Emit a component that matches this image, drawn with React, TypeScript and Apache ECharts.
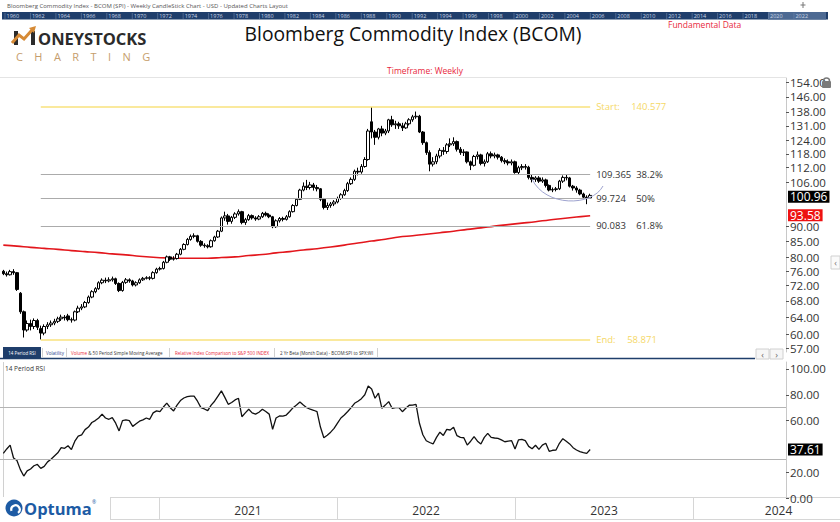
import React, { useEffect, useRef } from 'react';
import * as echarts from 'echarts';

const FONT = "'Open Sans', 'Noto Sans', sans-serif";

const headerCaption = 'Bloomberg Commodity Index - BCOM (SPI) - Weekly CandleStick Chart - USD - Updated Charts Layout';
const chartTitle = 'Bloomberg Commodity Index (BCOM)';
const timeframeText = 'Timeframe: Weekly';
const fundamentalText = 'Fundamental Data';
const navigatorYears = [1960, 1962, 1964, 1966, 1968, 1970, 1972, 1974, 1976, 1978, 1980, 1982, 1984, 1986, 1988, 1990, 1992, 1994, 1996, 1998, 2000, 2002, 2004, 2006, 2008, 2010, 2012, 2014, 2016, 2018, 2020, 2022];
const tabLabels = ['14 Period RSI', 'Volatility', 'Volume', ' & 50 Period Simple Moving Average', 'Relative Index Comparison to S&P 500 INDEX', '2 Yr Beta (Month Data) - BCOM:SPI to SPX:WI'];

// weekly bars, first bar's week
const firstWeek = '2020-02-16';
// [open, high, low, close]
const weeklyOHLC: number[][] = [
  [76.0, 76.4, 74.9, 75.3], [75.3, 75.9, 74.5, 75.0], [75.0, 76.4, 74.8, 75.9], [75.9, 76.6, 75.0, 75.6],
  [75.6, 75.8, 70.6, 71.0], [70.0, 70.3, 64.8, 65.3], [65.3, 65.6, 59.3, 61.0], [61.0, 63.2, 60.6, 62.5],
  [62.5, 63.4, 60.9, 61.8], [61.8, 63.7, 61.2, 63.2], [63.2, 63.6, 61.0, 61.6], [61.3, 62.0, 58.871, 60.3],
  [60.3, 62.3, 59.8, 61.8], [61.8, 62.8, 61.2, 62.2], [62.2, 63.2, 61.7, 62.6], [62.6, 63.6, 62.1, 63.0],
  [63.0, 64.1, 62.6, 63.6], [63.6, 64.6, 63.1, 64.0], [64.0, 64.5, 63.2, 63.8], [64.3, 64.8, 63.0, 63.4],
  [63.4, 63.9, 62.7, 63.3], [63.3, 65.6, 63.0, 65.3], [65.3, 66.8, 65.0, 66.2], [66.2, 67.2, 65.7, 66.5],
  [66.5, 68.0, 66.2, 67.6], [67.6, 69.4, 67.3, 69.0], [69.0, 70.8, 68.7, 70.4], [70.4, 71.6, 70.0, 71.2],
  [71.2, 73.2, 70.9, 72.8], [72.8, 74.0, 72.4, 73.5], [73.5, 74.2, 72.7, 73.3], [73.3, 74.3, 72.9, 73.6],
  [73.6, 74.5, 73.1, 73.9], [73.9, 74.2, 72.2, 72.6], [72.6, 72.9, 70.3, 70.7], [70.7, 73.3, 70.4, 72.9],
  [72.9, 74.1, 72.5, 73.6], [73.6, 74.0, 72.8, 73.3], [73.3, 73.6, 71.8, 72.2], [72.2, 73.2, 71.8, 72.8],
  [72.8, 74.0, 72.5, 73.6], [73.6, 74.4, 73.3, 74.0], [74.0, 74.6, 73.7, 74.2], [74.2, 74.6, 73.5, 74.0],
  [74.0, 76.0, 73.7, 75.6], [75.6, 77.0, 75.3, 76.6], [76.6, 77.3, 76.2, 76.8], [76.8, 79.0, 76.5, 78.6],
  [78.6, 80.6, 78.3, 80.2], [80.2, 80.5, 79.0, 79.5], [79.5, 80.4, 79.1, 79.7], [79.7, 81.4, 79.4, 81.0],
  [81.0, 82.9, 80.7, 82.5], [82.5, 84.4, 82.2, 84.0], [84.0, 86.1, 83.7, 85.6], [85.6, 87.2, 85.2, 86.6],
  [86.6, 87.6, 86.0, 86.8], [86.8, 87.1, 84.6, 85.0], [85.0, 85.4, 83.3, 83.8], [83.8, 84.4, 83.0, 83.6],
  [83.6, 84.1, 82.8, 83.3], [83.3, 85.6, 83.0, 85.2], [85.2, 86.8, 84.9, 86.4], [86.4, 88.7, 86.1, 88.3],
  [88.3, 93.3, 88.0, 92.8], [92.8, 95.0, 91.8, 93.5], [93.5, 94.2, 90.5, 91.6], [91.6, 93.5, 90.8, 93.0],
  [93.0, 94.8, 92.4, 94.2], [94.2, 95.8, 93.6, 95.0], [95.0, 95.3, 90.6, 91.2], [91.2, 92.8, 90.4, 92.2],
  [92.2, 94.2, 91.8, 93.6], [93.6, 94.0, 92.2, 92.8], [92.8, 93.4, 91.8, 92.4], [92.4, 93.8, 92.0, 93.2],
  [93.2, 94.9, 92.8, 94.4], [94.4, 95.0, 93.3, 93.8], [93.8, 94.4, 92.7, 93.2], [93.2, 93.5, 89.3, 89.8],
  [89.8, 92.3, 89.4, 91.8], [91.8, 93.1, 91.2, 92.6], [92.6, 93.2, 91.6, 92.3], [92.3, 93.8, 91.9, 93.2],
  [93.2, 95.5, 92.9, 95.0], [95.0, 97.7, 94.7, 97.2], [97.2, 100.0, 96.9, 99.5], [99.5, 103.5, 99.2, 103.0],
  [103.0, 106.0, 102.5, 104.5], [104.5, 107.0, 103.0, 104.0], [104.0, 106.2, 103.2, 105.0], [105.0, 105.8, 102.8, 104.0],
  [104.0, 105.0, 102.5, 103.5], [103.5, 103.8, 98.8, 99.5], [99.5, 100.0, 95.8, 96.5], [96.5, 98.3, 95.6, 97.2],
  [97.2, 98.5, 96.4, 97.8], [97.8, 99.2, 97.0, 98.5], [98.5, 100.5, 98.0, 99.8], [99.8, 101.8, 99.3, 101.2],
  [101.2, 103.5, 100.8, 102.8], [102.8, 106.2, 102.3, 105.5], [105.5, 108.0, 105.0, 107.2], [107.2, 111.2, 106.6, 110.5],
  [110.5, 112.0, 108.8, 110.2], [110.2, 113.5, 109.5, 112.5], [112.5, 116.5, 112.0, 115.5], [115.5, 129.5, 115.0, 128.5],
  [133.0, 140.577, 125.0, 128.0], [128.0, 129.0, 122.0, 125.5], [125.5, 130.0, 124.5, 129.5], [129.5, 131.0, 126.0, 127.5],
  [127.5, 129.5, 126.5, 128.5], [128.5, 134.5, 127.5, 134.0], [134.0, 136.0, 130.5, 131.5], [131.5, 133.5, 129.5, 132.0],
  [132.0, 133.0, 129.5, 131.0], [131.0, 132.5, 128.5, 130.0], [130.0, 133.0, 129.5, 132.0], [132.0, 134.8, 131.2, 134.0],
  [134.0, 136.5, 133.0, 135.5], [135.5, 138.2, 134.5, 135.8], [135.8, 136.5, 127.5, 128.0], [128.0, 128.5, 122.0, 123.0],
  [123.0, 123.5, 117.5, 118.5], [118.5, 119.5, 110.5, 113.5], [113.5, 116.5, 112.5, 114.5], [114.5, 118.0, 113.5, 117.0],
  [117.0, 120.5, 116.0, 119.5], [119.5, 121.0, 117.5, 119.0], [119.0, 122.8, 118.0, 122.0], [122.0, 125.0, 121.0, 122.5],
  [122.5, 125.5, 121.5, 123.5], [123.5, 124.0, 119.0, 120.0], [120.0, 121.0, 117.5, 118.5], [118.5, 120.0, 117.0, 118.8],
  [118.8, 119.0, 113.8, 114.5], [114.5, 115.0, 111.0, 113.0], [113.0, 117.5, 112.5, 116.8], [116.8, 119.0, 115.5, 117.5],
  [117.5, 118.0, 113.0, 113.8], [113.8, 115.5, 112.5, 114.5], [114.5, 118.8, 114.0, 118.0], [118.0, 119.0, 116.0, 117.0],
  [117.0, 118.5, 116.0, 117.5], [117.5, 118.0, 115.5, 116.5], [116.5, 117.0, 114.2, 115.0], [115.0, 116.0, 113.5, 114.5],
  [114.5, 115.5, 113.0, 114.0], [114.0, 115.5, 113.0, 114.5], [114.5, 115.0, 109.5, 110.0], [110.0, 112.8, 109.0, 112.0],
  [112.0, 113.5, 111.0, 112.5], [112.5, 113.5, 111.2, 112.2], [112.2, 112.8, 107.2, 108.0], [108.0, 109.0, 106.0, 107.2],
  [107.2, 108.5, 106.2, 107.8], [107.8, 108.5, 105.8, 106.5], [106.5, 108.0, 105.8, 107.0], [107.0, 107.5, 104.0, 104.8],
  [104.8, 105.2, 102.5, 103.0], [103.0, 104.0, 102.2, 103.2], [103.2, 104.2, 102.5, 103.5], [103.5, 107.0, 103.0, 106.5],
  [106.5, 108.8, 105.8, 108.0], [108.0, 109.2, 106.8, 107.8], [107.8, 108.2, 104.0, 104.5], [104.5, 105.0, 102.8, 103.8],
  [103.8, 104.5, 102.0, 103.0], [103.0, 103.5, 101.0, 101.5], [101.5, 102.0, 99.5, 100.3], [100.3, 101.0, 97.7, 100.0],
  [100.0, 101.6, 99.6, 100.96],
];

// 200-period simple moving average, read every 4th week
const sma200Every4Weeks = [
  83.8, 83.5, 83.1, 82.8, 82.5, 82.1, 81.8, 81.5, 81.1, 80.8,
  80.4, 80.1, 79.9, 79.8, 79.8, 79.8, 80.0, 80.2, 80.6, 80.9,
  81.4, 81.8, 82.3, 82.7, 83.2, 83.8, 84.5, 85.1, 85.7, 86.4,
  86.8, 87.3, 87.8, 88.3, 88.9, 89.4, 90.0, 90.5, 91.0, 91.5,
  92.1, 92.6, 93.1, 93.58,
];

// 14 period RSI, weekly
const rsi14 = [
  34.6, 38, 41, 31, 29, 22, 17, 21, 22.5, 25,
  26, 23, 24.5, 28, 30, 32.5, 35, 39, 38.5, 40.5,
  37.5, 44, 48, 49, 53, 55, 58.5, 60, 62, 65,
  62, 61, 62.3, 58, 52, 60, 60.5, 60, 55.5, 57.5,
  59.5, 60.5, 62, 61, 66, 67.5, 67, 70.5, 73.5, 70,
  67.5, 72, 75.5, 77.5, 78.5, 79, 79, 75, 70, 69,
  67.7, 72, 75, 79, 83, 78, 72.6, 74, 76, 77.3,
  63, 66, 68.8, 66, 65, 66.5, 68.8, 67, 65, 53.2,
  62, 63.6, 63.5, 64.3, 67, 70, 72, 74.4, 72, 70,
  68.8, 68, 66.9, 55, 46.7, 48.6, 51, 54, 58, 62,
  64.3, 67, 70, 73.4, 75, 77, 80, 86.8, 84.5, 77.3,
  81.2, 69.5, 72, 74.7, 69.5, 70, 70, 66.9, 69.5, 71.9,
  72, 72.6, 57.9, 49, 44.4, 43, 41.9, 47, 51, 48.5,
  53.2, 52.7, 54.8, 48.3, 47, 46.7, 41, 44, 47.5, 44,
  41.9, 47, 50.1, 47, 46.5, 46.2, 45, 43.6, 44, 44.4,
  38, 45, 45.5, 44.4, 40, 38.2, 40.9, 37.7, 41, 42.4,
  36.2, 37, 37.2, 42.4, 46, 44, 41.9, 39, 37.2, 36,
  35.1, 34.6, 37.61,
];

const priceTicks = [57, 60, 64, 68, 72, 76, 80, 85, 90, 106, 112, 118, 124, 131, 138, 146, 154];
const rsiTicks = [0, 20, 60, 80, 100];
const rsiBands = [70, 30];
const yearBoundaries = [2021, 2022, 2023, 2024];
const yearLabelPositions = [2021.5, 2022.5, 2023.5, 2024.48];

const fibStart = 140.577;
const fibEnd = 58.871;
const fibLevels = [109.365, 99.724, 90.083];
const fibPercents = ['38.2%', '50%', '61.8%'];

// axis windows
const xAxisStart = 2020.107;
const xAxisEnd = 2024.522;
const priceAxisMin = 56.17;
const priceAxisMax = 156.7;
const rsiAxisMax = 105.4;

const DAY = 86400000;
function decimalYear(t: number) {
  const y = new Date(t).getUTCFullYear();
  const s = Date.UTC(y, 0, 1);
  const e = Date.UTC(y + 1, 0, 1);
  return y + (t - s) / (e - s);
}

export default function App() {
  const ref = useRef<HTMLDivElement>(null);
  useEffect(() => {
    document.body.style.margin = '0';
    const chart = echarts.init(ref.current!, null, { renderer: 'svg' });
    const t0 = Date.parse(firstWeek + 'T00:00:00Z');
    const weekX = weeklyOHLC.map((_, i) => decimalYear(t0 + i * 7 * DAY));
    const ln = Math.log;
    const candleData = weeklyOHLC.map(([o, h, l, c], i) => [weekX[i], ln(o), ln(c), ln(l), ln(h)]);
    const maData = sma200Every4Weeks.map((v, k) => [weekX[Math.min(k * 4, weekX.length - 1)], ln(v)]);
    const rsiData = rsi14.map((v, i) => [weekX[i], v]);

    let lowIdx = 0;
    weeklyOHLC.forEach((r, i) => { if (r[2] < weeklyOHLC[lowIdx][2]) lowIdx = i; });
    const xLow = weekX[lowIdx];
    const xLast = weekX[weekX.length - 1];
    const lastClose = weeklyOHLC[weeklyOHLC.length - 1][3];
    const lastMA = sma200Every4Weeks[sma200Every4Weeks.length - 1];
    const lastRSI = rsi14[rsi14.length - 1];

    const fibLine = (value: number, first: string, second: string, lineColor: string, textColor: string, colW: number, lw: number) => [
      {
        coord: [xLow, ln(value)],
        lineStyle: { color: lineColor, width: lw, type: 'solid' },
        label: {
          show: true, position: 'end', distance: 6,
          formatter: `{a|${first}}{b|${second}}`,
          rich: {
            a: { width: colW, color: textColor, fontSize: 9.5, fontFamily: FONT },
            b: { color: textColor, fontSize: 9.5, fontFamily: FONT },
          },
        },
      },
      { coord: [xLast, ln(value)] },
    ];

    const tag = (value: number, text: string, bg: string) => ({
      yAxis: value,
      lineStyle: { color: 'transparent', width: 0 },
      label: {
        show: true, position: 'end', distance: 2, formatter: text,
        color: '#fff', backgroundColor: bg, padding: [1, 2, 0, 2], fontSize: 12, lineHeight: 11, fontFamily: FONT,
      },
    });

    const yellow = '#f5d866';
    const navy = '#1f3e6b';
    const tabFont = 4.5;
    const axisFont = 11.5;

    const graphics: any[] = [
      { type: 'text', x: 7, y: 5.5, style: { text: headerCaption, fill: '#555', fontSize: 6, fontFamily: FONT, verticalAlign: 'middle' } },
      { type: 'rect', shape: { x: 2, y: 12, width: 826, height: 7.5 }, style: { fill: navy } },
      { type: 'rect', shape: { x: 768, y: 12, width: 58, height: 7.5 }, style: { fill: '#4d6a93' } },
      ...navigatorYears.map((yr, k) => ({ type: 'line', shape: { x1: 5 + k * 25.45, y1: 13, x2: 5 + k * 25.45, y2: 19 }, style: { stroke: '#6b84a8', lineWidth: 0.6 } })),
      ...navigatorYears.map((yr, k) => ({ type: 'text', x: 6.5 + k * 25.45, y: 16, style: { text: String(yr), fill: '#c9d5e6', fontSize: 5.5, fontFamily: FONT, verticalAlign: 'middle' } })),
      { type: 'line', shape: { x1: 803, y1: 2, x2: 803, y2: 8 }, style: { stroke: '#777', lineWidth: 1 } },
      { type: 'line', shape: { x1: 800.5, y1: 5, x2: 805.5, y2: 5 }, style: { stroke: '#777', lineWidth: 1 } },
      // logo
      { type: 'rect', shape: { x: 14, y: 31, width: 4, height: 14 }, style: { fill: '#2b2b2b' } },
      { type: 'rect', shape: { x: 31, y: 31, width: 4, height: 14 }, style: { fill: '#2b2b2b' } },
      { type: 'polyline', shape: { points: [[12, 43], [19, 35], [24, 39], [32, 30]] }, style: { stroke: '#d68a35', lineWidth: 3, fill: 'none' } },
      { type: 'polygon', shape: { points: [[29, 28], [36, 26], [34, 33]] }, style: { fill: '#d68a35' } },
      { type: 'text', x: 38, y: 38.5, style: { text: 'ONEYSTOCKS', fill: '#2b2b2b', fontSize: 16.5, fontWeight: 'bold', fontFamily: FONT, verticalAlign: 'middle' } },
      { type: 'text', x: 16, y: 56, style: { text: 'C    H    A    R    T    I    N    G', fill: '#c59d6c', fontSize: 11, fontFamily: FONT, verticalAlign: 'middle' } },
      // titles
      { type: 'text', x: 413, y: 33, style: { text: chartTitle, fill: '#111', fontSize: 19.3, fontFamily: FONT, align: 'center', verticalAlign: 'middle' } },
      { type: 'text', x: 668, y: 24.5, style: { text: fundamentalText, fill: '#e8283c', fontSize: 8.5, fontFamily: FONT, verticalAlign: 'middle' } },
      { type: 'text', x: 425, y: 70.5, style: { text: timeframeText, fill: '#e8283c', fontSize: 8.5, fontFamily: FONT, align: 'center', verticalAlign: 'middle' } },
      { type: 'line', shape: { x1: 0, y1: 77.5, x2: 786, y2: 77.5 }, style: { stroke: '#e4e4e4', lineWidth: 1 } },
      // lock + side collapse
      { type: 'rect', z: 100, shape: { x: 822, y: 81, width: 9, height: 7, r: 1 }, style: { fill: '#7a7a7a' } },
      { type: 'arc', z: 100, shape: { cx: 826.5, cy: 81, r: 3, startAngle: Math.PI, endAngle: 2 * Math.PI }, style: { stroke: '#7a7a7a', lineWidth: 1.5, fill: 'none' } },
      { type: 'rect', shape: { x: 831, y: 256, width: 9, height: 13 }, style: { fill: '#fafafa', stroke: '#d0d0d0', lineWidth: 1 } },
      { type: 'text', x: 835.5, y: 262.5, style: { text: '‹', fill: '#777', fontSize: 9, fontFamily: FONT, align: 'center', verticalAlign: 'middle' } },
      // annotation arc
      { type: 'bezierCurve', z: 100, shape: { x1: 532, y1: 179, cpx1: 545, cpy1: 207, cpx2: 592, cpy2: 207, x2: 603, y2: 186 }, style: { stroke: '#9ea3cf', lineWidth: 1, fill: 'none' } },
      // tab bar
      { type: 'rect', z: 100, shape: { x: 0, y: 345, width: 786, height: 14 }, style: { fill: '#fff' } },
      { type: 'rect', z: 101, shape: { x: 3, y: 347, width: 38, height: 11 }, style: { fill: navy } },
      { type: 'text', z: 102, x: 22, y: 352.5, style: { text: tabLabels[0], fill: '#fff', fontSize: tabFont, fontFamily: FONT, align: 'center', verticalAlign: 'middle' } },
      { type: 'text', z: 102, x: 46, y: 352.5, style: { text: tabLabels[1], fill: '#1f3e8a', fontSize: tabFont, fontFamily: FONT, verticalAlign: 'middle' } },
      { type: 'text', z: 102, x: 71, y: 352.5, style: { text: `{r|${tabLabels[2]}}${tabLabels[3]}`, fill: '#333', fontSize: tabFont, fontFamily: FONT, verticalAlign: 'middle', rich: { r: { fill: '#e8283c', fontSize: tabFont, fontFamily: FONT } } } },
      { type: 'text', z: 102, x: 175, y: 352.5, style: { text: tabLabels[4], fill: '#e8283c', fontSize: tabFont, fontFamily: FONT, verticalAlign: 'middle' } },
      { type: 'text', z: 102, x: 280, y: 352.5, style: { text: tabLabels[5], fill: '#333', fontSize: tabFont, fontFamily: FONT, verticalAlign: 'middle' } },
      ...[42.5, 66.5, 169.5, 274.5, 377.5].map((x) => ({ type: 'line', z: 102, shape: { x1: x, y1: 348, x2: x, y2: 357 }, style: { stroke: '#d0d0d0', lineWidth: 1 } })),
      { type: 'line', z: 102, shape: { x1: 0, y1: 358.5, x2: 755, y2: 358.5 }, style: { stroke: navy, lineWidth: 1.5 } },
      { type: 'rect', z: 102, shape: { x: 756, y: 349, width: 13, height: 10 }, style: { fill: '#f6f6f6', stroke: '#d0d0d0', lineWidth: 1 } },
      { type: 'rect', z: 102, shape: { x: 770, y: 349, width: 13, height: 10 }, style: { fill: '#f6f6f6', stroke: '#d0d0d0', lineWidth: 1 } },
      { type: 'text', z: 103, x: 762.5, y: 354, style: { text: '‹', fill: '#666', fontSize: 9, fontFamily: FONT, align: 'center', verticalAlign: 'middle' } },
      { type: 'text', z: 103, x: 776.5, y: 354, style: { text: '›', fill: '#666', fontSize: 9, fontFamily: FONT, align: 'center', verticalAlign: 'middle' } },
      { type: 'text', x: 5, y: 368, style: { text: '14 Period RSI', fill: '#333', fontSize: 6.5, fontFamily: FONT, verticalAlign: 'middle' } },
      { type: 'line', shape: { x1: 3.5, y1: 362, x2: 3.5, y2: 497 }, style: { stroke: '#d0d0d0', lineWidth: 1 } },
      // date band frame
      { type: 'line', shape: { x1: 110, y1: 497.5, x2: 840, y2: 497.5 }, style: { stroke: '#d6d6d6', lineWidth: 1 } },
      { type: 'line', shape: { x1: 110, y1: 519.5, x2: 840, y2: 519.5 }, style: { stroke: '#d6d6d6', lineWidth: 1 } },
      { type: 'line', shape: { x1: 110.5, y1: 497, x2: 110.5, y2: 520 }, style: { stroke: '#d6d6d6', lineWidth: 1 } },
      // Optuma logo
      { type: 'circle', shape: { cx: 14, cy: 508, r: 8.5 }, style: { fill: '#1d5ba4' } },
      { type: 'arc', shape: { cx: 15.5, cy: 509.5, r: 4.2, startAngle: Math.PI * 0.9, endAngle: Math.PI * 2.3 }, style: { stroke: '#fff', lineWidth: 2.2, fill: 'none' } },
      { type: 'text', x: 24, y: 508.5, style: { text: 'Optuma', fill: '#1d5ba4', fontSize: 16.5, fontWeight: 'bold', fontFamily: FONT, verticalAlign: 'middle' } },
      { type: 'text', x: 92, y: 502, style: { text: '®', fill: '#1d5ba4', fontSize: 5, fontFamily: FONT, verticalAlign: 'middle' } },
    ];

    const option: any = {
      animation: false,
      backgroundColor: '#fff',
      textStyle: { fontFamily: FONT },
      grid: [
        { left: 0, right: 54, top: 78, bottom: 170, outerBoundsMode: 'none' },
        { left: 0, right: 54, top: 362, bottom: 24, outerBoundsMode: 'none' },
      ],
      xAxis: [
        { type: 'value', gridIndex: 0, min: xAxisStart, max: xAxisEnd, show: false },
        {
          type: 'value', gridIndex: 1, min: xAxisStart, max: xAxisEnd,
          axisLine: { show: false },
          splitLine: { show: false },
          axisTick: { show: true, customValues: yearBoundaries, length: 21, lineStyle: { color: '#d6d6d6' } },
          axisLabel: { customValues: yearLabelPositions, formatter: (v: number) => String(Math.floor(v)), margin: 6, fontSize: 12, color: '#333', fontFamily: FONT },
        },
      ],
      yAxis: [
        {
          type: 'value', gridIndex: 0, position: 'right', min: ln(priceAxisMin), max: ln(priceAxisMax),
          axisLine: { show: true, lineStyle: { color: '#c8c8c8' } },
          splitLine: { show: false },
          axisTick: { show: true, customValues: priceTicks.map(ln), length: 3, lineStyle: { color: '#555' } },
          axisLabel: { customValues: priceTicks.map(ln), formatter: (v: number) => Math.exp(v).toFixed(2), margin: 4, fontSize: axisFont, lineHeight: 11, color: '#333', fontFamily: FONT },
        },
        {
          type: 'value', gridIndex: 1, position: 'right', min: 0, max: rsiAxisMax,
          axisLine: { show: true, lineStyle: { color: '#c8c8c8' } },
          splitLine: { show: false },
          axisTick: { show: true, customValues: rsiTicks, length: 3, lineStyle: { color: '#555' } },
          axisLabel: { customValues: rsiTicks, formatter: (v: number) => v.toFixed(2), margin: 4, fontSize: axisFont, lineHeight: 11, color: '#333', fontFamily: FONT },
        },
      ],
      series: [
        {
          type: 'line', name: 'SMA', xAxisIndex: 0, yAxisIndex: 0, data: maData, smooth: 0.4, showSymbol: false,
          lineStyle: { color: '#e3161c', width: 1.6 }, z: 3,
          markLine: {
            silent: true, symbol: ['none', 'none'], animation: false,
            lineStyle: { type: 'solid' },
            data: [
              fibLine(fibStart, 'Start:', String(fibStart), '#f9e27d', yellow, 35, 1.5),
              ...fibLevels.map((v, k) => fibLine(v, String(v), fibPercents[k], '#ababab', '#333', 40, 1)),
              fibLine(fibEnd, 'End:', String(fibEnd), '#f9e27d', yellow, 31, 1.5),
              tag(ln(lastClose), lastClose.toFixed(2), '#000'),
              tag(ln(lastMA), lastMA.toFixed(2), '#ee1111'),
            ],
          },
        },
        {
          type: 'candlestick', name: 'BCOM', xAxisIndex: 0, yAxisIndex: 0, data: candleData, barWidth: 3, z: 4,
          itemStyle: { color: '#fff', color0: '#000', borderColor: '#000', borderColor0: '#000', borderWidth: 1 },
        },
        {
          type: 'line', name: 'RSI', xAxisIndex: 1, yAxisIndex: 1, data: rsiData, showSymbol: false,
          lineStyle: { color: '#111', width: 1.3 }, z: 4,
          markLine: {
            silent: true, symbol: ['none', 'none'], animation: false,
            data: [
              ...rsiBands.map((b) => ({ yAxis: b, lineStyle: { color: '#b4b4b4', width: 1, type: 'solid' }, label: { show: false } })),
              tag(lastRSI, lastRSI.toFixed(2), '#000'),
            ],
          },
        },
      ],
      graphic: graphics,
    };
    chart.setOption(option);
    return () => chart.dispose();
  }, []);
  return <div ref={ref} style={{ position: 'absolute', left: 0, top: 0, width: 840, height: 522, background: '#fff' }} />;
}
